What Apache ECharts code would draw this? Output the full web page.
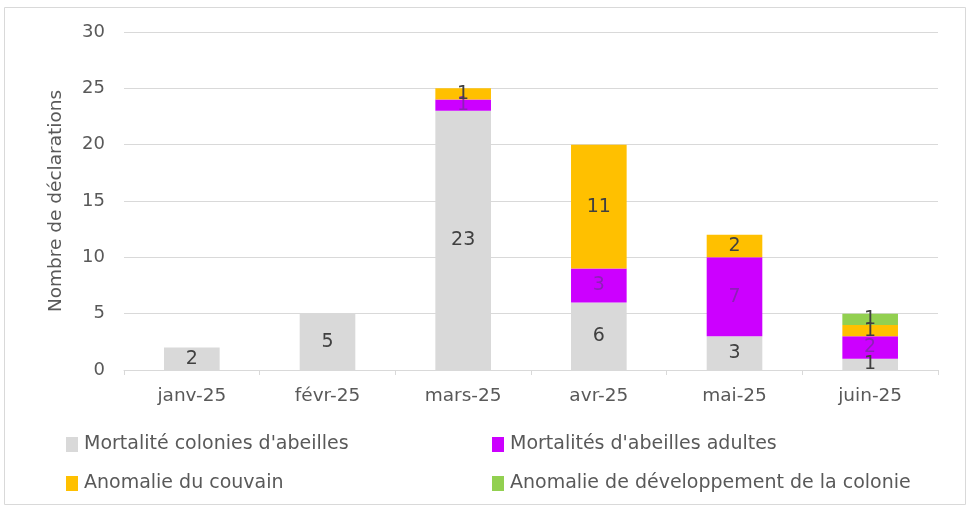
<!DOCTYPE html>
<html>
<head>
<meta charset="utf-8">
<script src="https://cdn.jsdelivr.net/npm/echarts@6/dist/echarts.min.js"></script>
<style>
  html, body { margin: 0; padding: 0; background: #fff; }
  #chart { width: 970px; height: 508px; }
</style>
</head>
<body>
<div id="chart"></div>
<script>
// catégories (mois)
const months = ['janv-25', 'févr-25', 'mars-25', 'avr-25', 'mai-25', 'juin-25']

// séries
const mortaliteColonies = [2, 5, 23, 6, 3, 1]
const mortaliteAdultes = [0, 0, 1, 3, 7, 2]
const anomalieCouvain = [0, 0, 1, 11, 2, 1]
const anomalieDeveloppement = [0, 0, 0, 0, 0, 1]

const yTicks = [0, 5, 10, 15, 20, 25, 30]

const font = 'DejaVu Sans'

const makeSeries = (name, data, color, labelColor) => ({
  name,
  type: 'bar',
  stack: 'total',
  barWidth: '41%',
  data: data.map(v => (v === 0 ? null : v)),
  itemStyle: { color },
  label: {
    show: true,
    position: 'inside',
    color: labelColor,
    fontSize: 19,
    fontFamily: font
  }
})

const legendText = { color: '#595959', fontSize: 19, fontFamily: font, padding: [0, 0, 0, 1] }

const chart = echarts.init(document.getElementById('chart'))

chart.setOption({
  animation: false,
  graphic: [
    {
      type: 'rect',
      shape: { x: 4.5, y: 7.5, width: 961, height: 497 },
      style: { fill: 'none', stroke: '#d9d9d9', lineWidth: 1 },
      silent: true
    }
  ],
  grid: { left: 124, right: 32, top: 32, bottom: 138 },
  legend: [
    {
      left: 61, top: 430, orient: 'vertical', itemGap: 20,
      itemWidth: 12, itemHeight: 15, icon: 'rect',
      textStyle: legendText,
      data: ['Mortalité colonies d\'abeilles', 'Anomalie du couvain']
    },
    {
      left: 487, top: 430, orient: 'vertical', itemGap: 20,
      itemWidth: 12, itemHeight: 15, icon: 'rect',
      textStyle: legendText,
      data: ['Mortalités d\'abeilles adultes', 'Anomalie de développement de la colonie']
    }
  ],
  xAxis: {
    type: 'category',
    data: months,
    axisLine: { lineStyle: { color: '#d9d9d9' } },
    axisTick: { show: true, length: 5, lineStyle: { color: '#d9d9d9' } },
    axisLabel: { color: '#595959', fontSize: 18.5, fontFamily: font, margin: 17 }
  },
  yAxis: {
    type: 'value',
    min: yTicks[0],
    max: yTicks[yTicks.length - 1],
    interval: 5,
    name: 'Nombre de déclarations',
    nameLocation: 'middle',
    nameGap: 58,
    nameTextStyle: { color: '#595959', fontSize: 18.5, fontFamily: font },
    axisLabel: { color: '#595959', fontSize: 18, fontFamily: font, margin: 19 },
    splitLine: { lineStyle: { color: '#d9d9d9' } }
  },
  series: [
    makeSeries('Mortalité colonies d\'abeilles', mortaliteColonies, '#d9d9d9', '#404040'),
    makeSeries('Mortalités d\'abeilles adultes', mortaliteAdultes, '#cc00ff', '#8e1fb8'),
    makeSeries('Anomalie du couvain', anomalieCouvain, '#ffc000', '#404040'),
    makeSeries('Anomalie de développement de la colonie', anomalieDeveloppement, '#92d050', '#404040')
  ]
})
</script>
</body>
</html>
